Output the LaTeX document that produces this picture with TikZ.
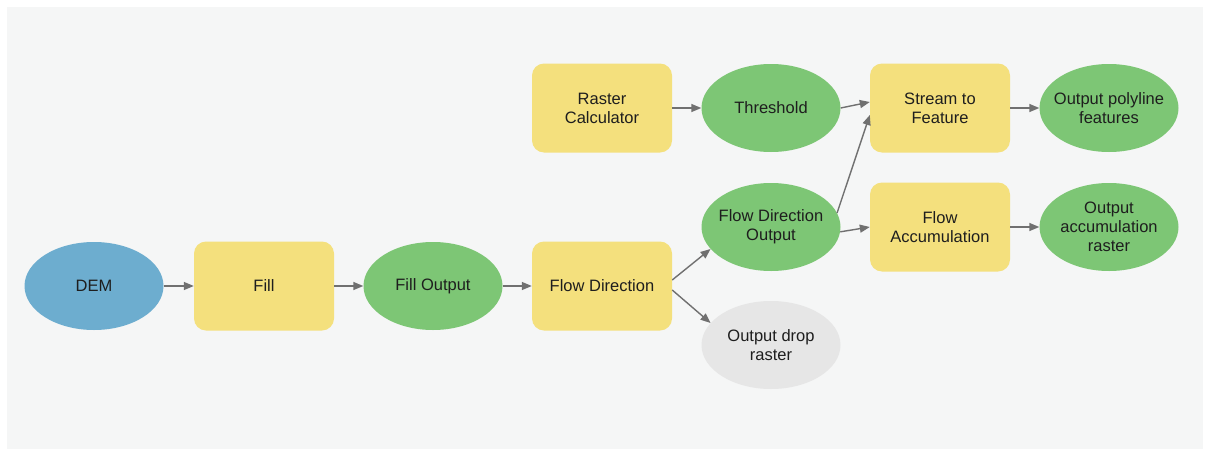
\documentclass[tikz,border=0pt]{standalone}
\usepackage{fontspec}
\setmainfont{Liberation Sans}
\usetikzlibrary{shapes.geometric,arrows.meta}
\definecolor{panelgray}{HTML}{F5F6F6}
\definecolor{toolyellow}{HTML}{F4E07D}
\definecolor{datagreen}{HTML}{7DC675}
\definecolor{inputblue}{HTML}{6DADCF}
\definecolor{dropgray}{HTML}{E6E6E6}
\definecolor{linkgray}{HTML}{707070}
\definecolor{labelink}{HTML}{1E1E1E}
\tikzset{
  base/.style={inner sep=0pt, align=center, text=labelink,
    font=\fontsize{16.5}{19}\selectfont},
  tool/.style={base, rectangle, rounded corners=12pt, fill=toolyellow,
    minimum width=140pt, minimum height=89pt},
  % negative inner sep keeps every ellipse at the same fixed size
  data/.style={base, ellipse, fill=datagreen, inner xsep=-25pt, inner ysep=-6pt,
    minimum width=139pt, minimum height=88pt},
  input/.style={data, fill=inputblue},
  dropout/.style={data, fill=dropgray},
  link/.style={draw=linkgray, line width=1.4pt,
    -{Triangle[length=10pt,width=8pt]}}
}
\begin{document}
\begin{tikzpicture}[x=1pt,y=-1pt]
  % canvas and panel
  \fill[white] (0,0) rectangle (1205,450);
  \useasboundingbox (0,0) rectangle (1205,450);
  \fill[panelgray] (7,7) rectangle (1203,449);

  % main chain
  \node[input] (dem) at (94,286) {DEM};
  \node[tool]  (fill) at (264,286) {Fill};
  \node[data]  (fillout) at (433,286) {Fill Output};
  \node[tool]  (fdir) at (602,286) {Flow Direction};
  \node[data]  (fdirout) at (771,227) {Flow Direction\\Output};
  \node[dropout] (drop) at (771,345) {Output drop\\raster};

  % upper branch
  \node[tool] (rcalc) at (602,108) {Raster\\Calculator};
  \node[data] (thr) at (771,108) {Threshold};
  \node[tool] (stf) at (940,108) {Stream to\\Feature};
  \node[data] (poly) at (1109,108) {Output polyline\\features};

  % accumulation branch
  \node[tool] (facc) at (940,227) {Flow\\Accumulation};
  \node[data] (accout) at (1109,227) {Output\\accumulation\\raster};

  % connectors
  \draw[link] (dem) -- (fill);
  \draw[link] (fill) -- (fillout);
  \draw[link] (fillout) -- (fdir);
  \draw[link] ([yshift=6pt]fdir.east) -- (fdirout.200);
  \draw[link] ([yshift=-4pt]fdir.east) -- (drop.160);
  \draw[link] (rcalc) -- (thr);
  \draw[link] (thr.east) -- ([yshift=6pt]stf.west);
  \draw[link] (fdirout.12) -- ([yshift=-7pt]stf.west);
  \draw[link] (fdirout.-4) -- (facc.west);
  \draw[link] (stf) -- (poly);
  \draw[link] (facc) -- (accout);
\end{tikzpicture}
\end{document}
